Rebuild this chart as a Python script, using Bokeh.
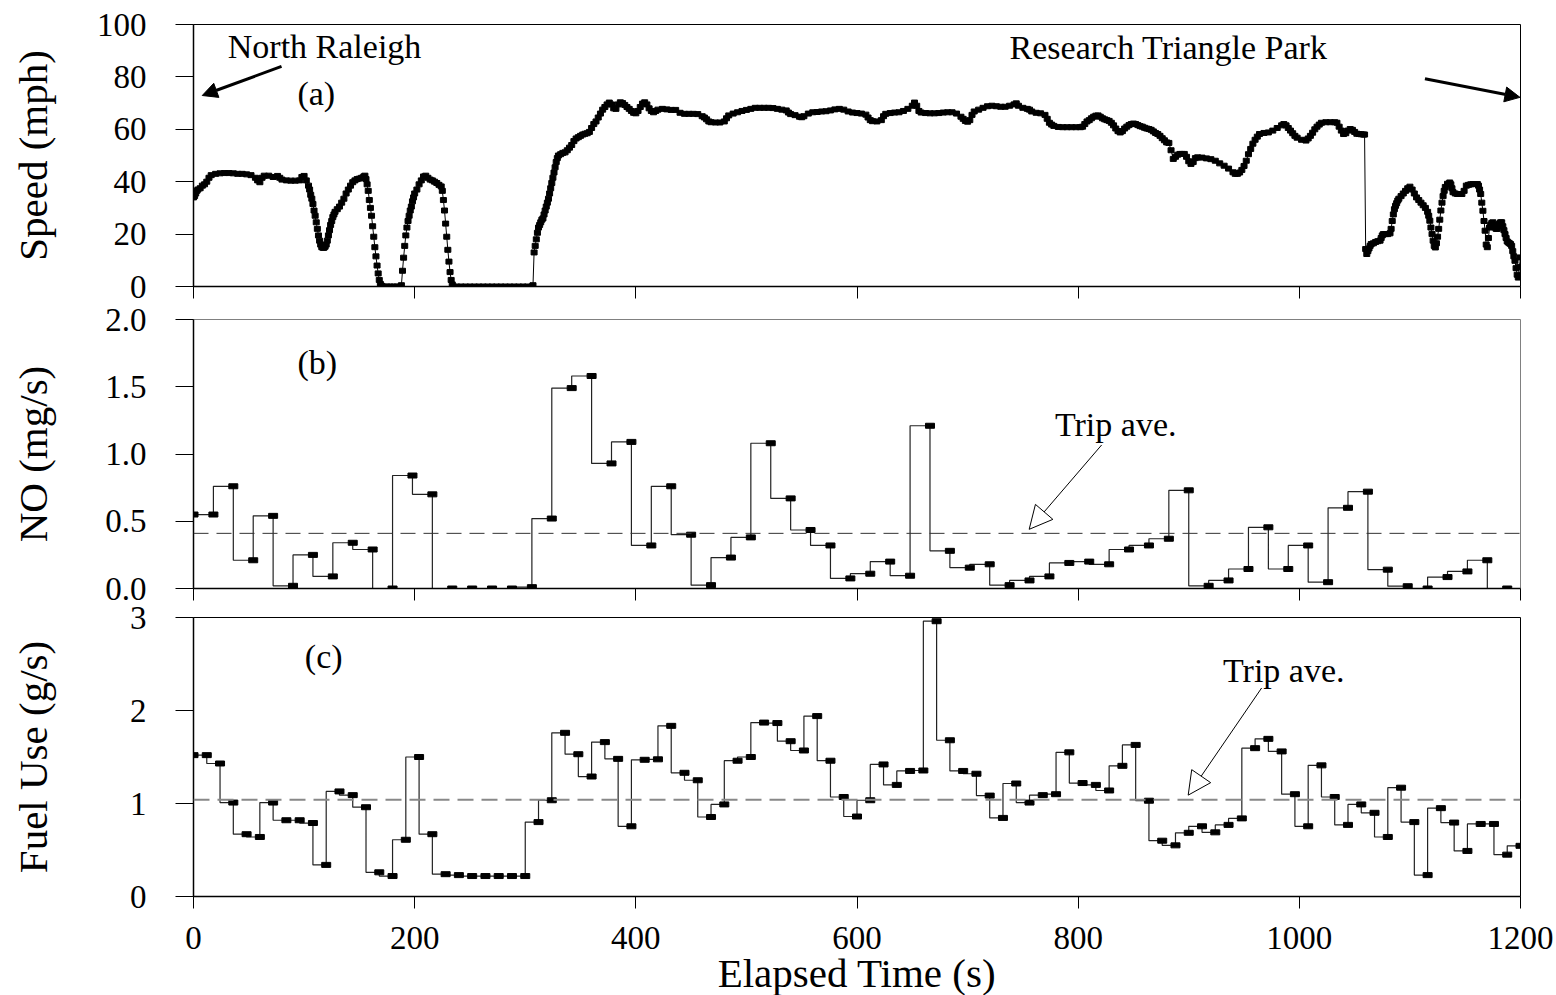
from bokeh.plotting import figure
from bokeh.models import (Range1d, FixedTicker, Span, Label, Arrow, NormalHead,
                          PrintfTickFormatter)
from bokeh.layouts import column
from bokeh.embed import file_html
from bokeh.resources import INLINE

FONT = "Liberation Serif"

# ---------------- data ----------------
speed_t = [
    0, 1, 2, 3, 4, 6, 8, 10, 12, 14,
    16, 20, 24, 28, 32, 36, 40, 44, 48, 52,
    56, 58, 60, 62, 64, 68, 72, 76, 78, 80,
    84, 88, 92, 96, 98, 100, 102, 104, 105, 106,
    107, 108, 109, 110, 111, 112, 113, 114, 115, 116,
    117, 118, 119, 120, 121, 122, 123, 124, 125, 126,
    127, 128, 130, 132, 134, 136, 138, 140, 142, 144,
    146, 148, 150, 152, 154, 155, 156, 157, 158, 159,
    160, 161, 162, 163, 164, 165, 166, 167, 168, 169,
    170, 172, 175, 178, 181, 184, 187, 188, 189, 190,
    191, 192, 193, 194, 195, 196, 197, 198, 199, 200,
    202, 204, 206, 208, 210, 212, 214, 216, 218, 220,
    222, 224, 225, 226, 227, 228, 229, 230, 231, 232,
    233, 234, 235, 238, 242, 246, 250, 254, 258, 262,
    266, 270, 274, 278, 282, 286, 290, 294, 298, 302,
    306, 307, 308, 309, 310, 311, 312, 313, 314, 315,
    316, 317, 318, 319, 320, 321, 322, 323, 324, 325,
    326, 327, 328, 329, 330, 332, 334, 336, 338, 340,
    342, 344, 346, 348, 350, 352, 354, 356, 358, 360,
    362, 364, 366, 368, 370, 372, 374, 376, 378, 380,
    382, 384, 386, 388, 390, 392, 394, 396, 398, 400,
    402, 404, 406, 408, 410, 412, 414, 416, 418, 420,
    424, 428, 432, 436, 440, 444, 448, 452, 456, 460,
    462, 464, 466, 468, 472, 476, 480, 482, 484, 488,
    492, 496, 500, 504, 508, 512, 516, 520, 524, 528,
    532, 536, 538, 540, 544, 548, 550, 552, 556, 560,
    564, 568, 572, 576, 580, 584, 588, 592, 596, 600,
    604, 608, 610, 612, 614, 618, 622, 624, 626, 630,
    634, 638, 642, 646, 650, 652, 654, 656, 658, 662,
    666, 670, 674, 678, 682, 686, 690, 694, 696, 698,
    700, 702, 704, 706, 710, 714, 718, 722, 726, 730,
    734, 738, 742, 744, 746, 750, 754, 756, 758, 762,
    766, 770, 772, 774, 776, 778, 782, 786, 790, 794,
    798, 802, 804, 806, 808, 810, 812, 814, 816, 818,
    820, 822, 824, 826, 828, 830, 832, 834, 836, 838,
    840, 842, 844, 846, 848, 850, 852, 854, 856, 858,
    860, 862, 864, 866, 868, 870, 872, 874, 876, 878,
    880, 882, 884, 886, 888, 890, 892, 894, 896, 898,
    900, 902, 904, 906, 908, 912, 916, 920, 924, 928,
    932, 936, 940, 942, 944, 946, 948, 950, 952, 954,
    956, 958, 960, 962, 964, 968, 972, 976, 980, 984,
    986, 988, 990, 992, 994, 996, 998, 1002, 1006, 1008,
    1010, 1012, 1014, 1016, 1018, 1020, 1024, 1028, 1032, 1034,
    1036, 1038, 1040, 1042, 1044, 1046, 1048, 1050, 1052, 1054,
    1056, 1058, 1059, 1060, 1061, 1062, 1063, 1064, 1065, 1067,
    1069, 1071, 1073, 1074, 1075, 1076, 1078, 1080, 1082, 1083,
    1084, 1085, 1086, 1087, 1088, 1089, 1090, 1092, 1094, 1096,
    1098, 1100, 1102, 1104, 1106, 1108, 1110, 1112, 1114, 1116,
    1117, 1118, 1119, 1120, 1121, 1122, 1123, 1124, 1125, 1126,
    1127, 1128, 1129, 1130, 1131, 1132, 1134, 1136, 1137, 1138,
    1139, 1141, 1143, 1145, 1147, 1149, 1151, 1153, 1155, 1157,
    1159, 1161, 1162, 1163, 1164, 1165, 1166, 1167, 1168, 1169,
    1170, 1171, 1172, 1173, 1174, 1175, 1176, 1177, 1178, 1179,
    1180, 1181, 1182, 1183, 1184, 1185, 1186, 1187, 1188, 1189,
    1190, 1191, 1192, 1193, 1194, 1195, 1196, 1197, 1198, 1199,
    1200,
]
speed_mph = [
    34.0, 34.5, 35.5, 36.5, 37, 37.5, 38.5, 39, 40, 41.5,
    42.5, 43, 43.2, 43.3, 43.3, 43.2, 43, 43, 42.8, 42.5,
    41.5, 40.5, 39.8, 41.5, 42.3, 42.3, 41.8, 42.2, 41.5, 40.8,
    40.5, 40.4, 40.4, 40.5, 41.8, 42.2, 40.5, 38.5, 37, 35,
    33.5, 31.5, 29, 27, 24.5, 22, 19.5, 17.5, 16, 15,
    14.8, 14.8, 15.2, 16, 17.5, 19.5, 21.5, 23.5, 25, 26.5,
    27.5, 28.5, 29.5, 30.5, 32, 33.5, 35.5, 37, 38.5, 39.8,
    40.5, 41, 41.2, 41.5, 42, 42.3, 41, 39, 36.5, 33,
    30, 27, 23, 19, 15, 11.5, 8, 5, 2.5, 1,
    0.3, 0, 0, 0, 0, 0, 0, 0.5, 6, 11,
    15.5, 19.5, 22.5, 25, 27, 29, 30.5, 32.5, 34, 35.5,
    37, 39, 40.5, 42, 42.3, 41.5, 40.8, 40.5, 40, 39.5,
    38.8, 38.2, 36.5, 33, 29, 24, 19, 14, 9.5, 5.5,
    2.5, 0.8, 0, 0, 0, 0, 0, 0, 0, 0,
    0, 0, 0, 0, 0, 0, 0, 0, 0, 0,
    0, 0.5, 13, 15.5, 18, 20.5, 22.5, 23.5, 24.5, 25.5,
    26, 27.5, 29, 30.5, 32, 33.5, 35.5, 37.5, 39.5, 41.5,
    43.5, 45.5, 47.5, 49, 50, 50.5, 51, 51.2, 52, 53,
    54, 55.5, 56.5, 57, 57.5, 58, 58.3, 58.5, 59, 60.5,
    62, 63, 64.5, 66, 67.5, 68.5, 69.5, 70.2, 69.5, 68,
    67.8, 69.5, 70.3, 70, 69.3, 68.5, 67.8, 67, 66.3, 66.1,
    67, 68.5, 69.8, 70.3, 69.5, 68, 67, 66.5, 67, 67.5,
    67.8, 67.6, 67.4, 67.4, 66.3, 65.9, 65.9, 65.9, 65.8, 65,
    64.5, 63.8, 63, 62.7, 62.6, 62.6, 63, 64.2, 65.3, 66,
    66.5, 67, 67.4, 67.8, 68.2, 68.2, 68.2, 68.2, 68.1, 67.8,
    67.5, 67.2, 66.4, 65.8, 65.4, 64.8, 64.6, 65, 66, 66.5,
    66.6, 66.8, 66.9, 67.2, 67.6, 67.8, 67.5, 66.8, 66.4, 66.2,
    66, 65.6, 64.5, 63.5, 63.1, 63, 63.5, 65, 65.9, 66.2,
    66.4, 66.5, 67, 67.8, 69, 70.2, 69, 67, 66.4, 66.2,
    66.1, 66.1, 66.2, 66.4, 66.5, 66.5, 66, 64.8, 64, 63.2,
    62.9, 63.5, 65.5, 66.8, 67.5, 68.2, 68.8, 69, 68.8, 68.6,
    68.6, 69, 69.5, 69.9, 69, 68.2, 67.8, 67.5, 66.8, 66.3,
    66.1, 65.5, 64, 62.5, 61.8, 61.3, 60.9, 60.8, 60.8, 60.8,
    60.8, 60.8, 61, 62, 63, 63.5, 64.2, 64.8, 65.2, 65.3,
    64.8, 64.2, 63.8, 63.5, 63.2, 62.5, 61.5, 60.3, 59.3, 58.8,
    59.3, 60.3, 61, 61.6, 62, 62.2, 62, 61.6, 61.2, 61,
    60.6, 60.3, 60.1, 59.8, 59.2, 58.6, 58.2, 57.5, 56.6, 55.8,
    55, 54.8, 52, 48.7, 49.5, 50.3, 50.6, 50.6, 50.6, 49.5,
    47.8, 46.8, 47.5, 49, 49.3, 49.2, 48.9, 48.6, 48, 47,
    46.1, 45, 43.6, 43, 43, 43.5, 44.5, 46, 48, 50.5,
    52.5, 54.5, 56, 57.2, 58.2, 58.6, 58.8, 59.5, 60.5, 61.5,
    62, 61.5, 60.5, 59.5, 58.5, 57.5, 56.8, 56, 55.7, 56.5,
    57.5, 58.7, 60, 61, 61.8, 62.5, 62.7, 62.7, 62.7, 62.5,
    61, 59.5, 58.2, 58.5, 59.5, 60.1, 59.8, 59, 58.3, 58.2,
    58.1, 58, 58, 14.3, 12.4, 13.5, 14.5, 15.5, 16.2, 16.5,
    17, 17.3, 17.5, 18.5, 19.5, 20, 20, 20, 20.3, 22,
    25, 27.5, 29.5, 30.8, 31.8, 32.8, 33.5, 34.5, 35.5, 36.5,
    37.5, 38.1, 37, 35.5, 34, 33, 32, 31, 30, 28.5,
    27, 25.1, 22.5, 20, 17.5, 15.5, 14.9, 16.5, 19, 22,
    25.5, 29, 32, 34.5, 36.5, 38, 39.2, 39.7, 39, 37.5,
    36, 35.5, 35.3, 35.3, 35.3, 36.5, 38.5, 38.8, 39, 39.1,
    39.1, 39.1, 38.5, 37, 35.3, 32, 28.9, 25, 21.3, 16,
    15, 18.5, 22.5, 23.5, 24.2, 24.5, 23.5, 22.5, 22, 22,
    23, 24, 24.5, 24.5, 23, 21.5, 20, 18.5, 17.2, 16.8,
    16.5, 16.2, 15.5, 13.5, 11.5, 9.8, 7, 4.5, 3.4, 7.5,
    11.1,
]

no_t = [
    0, 18, 36, 54, 72, 90, 108, 126, 144, 162,
    180, 198, 216, 234, 252, 270, 288, 306, 324, 342,
    360, 378, 396, 414, 432, 450, 468, 486, 504, 522,
    540, 558, 576, 594, 612, 630, 648, 666, 684, 702,
    720, 738, 756, 774, 792, 810, 828, 846, 864, 882,
    900, 918, 936, 954, 972, 990, 1008, 1026, 1044, 1062,
    1080, 1098, 1116, 1134, 1152, 1170, 1188,
]
no_mgs = [
    0.55, 0.55, 0.76, 0.21, 0.54, 0.02, 0.25, 0.09, 0.34, 0.29,
    0.00, 0.84, 0.70, 0.00, 0.00, 0.00, 0.00, 0.01, 0.52, 1.49,
    1.58, 0.93, 1.09, 0.32, 0.76, 0.40, 0.025, 0.23, 0.38, 1.08,
    0.67, 0.435, 0.32, 0.075, 0.11, 0.20, 0.095, 1.21, 0.28, 0.155,
    0.18, 0.025, 0.06, 0.09, 0.19, 0.20, 0.18, 0.29, 0.32, 0.37,
    0.73, 0.02, 0.06, 0.145, 0.455, 0.145, 0.32, 0.047, 0.60, 0.72,
    0.14, 0.017, 0.00, 0.085, 0.127, 0.21, 0.00,
]
NO_TRIP_AVE = 0.41

fuel_t = [
    0, 12, 24, 36, 48, 60, 72, 84, 96, 108,
    120, 132, 144, 156, 168, 180, 192, 204, 216, 228,
    240, 252, 264, 276, 288, 300, 312, 324, 336, 348,
    360, 372, 384, 396, 408, 420, 432, 444, 456, 468,
    480, 492, 504, 516, 528, 540, 552, 564, 576, 588,
    600, 612, 624, 636, 648, 660, 672, 684, 696, 708,
    720, 732, 744, 756, 768, 780, 792, 804, 816, 828,
    840, 852, 864, 876, 888, 900, 912, 924, 936, 948,
    960, 972, 984, 996, 1008, 1020, 1032, 1044, 1056, 1068,
    1080, 1092, 1104, 1116, 1128, 1140, 1152, 1164, 1176, 1188,
    1200,
]
fuel_gs = [
    1.52, 1.52, 1.43, 1.01, 0.67, 0.64, 1.01, 0.82, 0.82, 0.79,
    0.34, 1.13, 1.09, 0.96, 0.26, 0.22, 0.61, 1.50, 0.67, 0.24,
    0.23, 0.22, 0.22, 0.22, 0.22, 0.22, 0.80, 1.035, 1.76, 1.53,
    1.29, 1.66, 1.48, 0.755, 1.47, 1.475, 1.835, 1.33, 1.25, 0.855,
    0.99, 1.46, 1.50, 1.87, 1.865, 1.67, 1.57, 1.94, 1.46, 1.07,
    0.86, 1.035, 1.42, 1.20, 1.35, 1.355, 2.96, 1.68, 1.35, 1.32,
    1.085, 0.845, 1.215, 1.01, 1.09, 1.10, 1.55, 1.22, 1.20, 1.14,
    1.405, 1.63, 1.03, 0.60, 0.55, 0.685, 0.755, 0.69, 0.77, 0.84,
    1.595, 1.695, 1.56, 1.10, 0.755, 1.41, 1.07, 0.77, 0.99, 0.90,
    0.64, 1.17, 0.80, 0.23, 0.95, 0.795, 0.49, 0.78, 0.78, 0.45,
    0.545,
]
FUEL_TRIP_AVE = 1.04

x_ticks = [0, 200, 400, 600, 800, 1000, 1200]
speed_ticks = [0, 20, 40, 60, 80, 100]
no_ticks = [0.0, 0.5, 1.0, 1.5, 2.0]
fuel_ticks = [0, 1, 2, 3]

# ---------------- layout ----------------
FRAME_W = 1327
LEFT = 193
RIGHT = 34
x_range = Range1d(0, 1200)


def make_fig(y_range, frame_h, top, bottom, overlap=0):
    p = figure(x_range=x_range, y_range=y_range, frame_width=FRAME_W,
               frame_height=frame_h, output_backend="svg",
               toolbar_location=None, min_border_left=LEFT,
               min_border_right=RIGHT, min_border_top=top,
               min_border_bottom=bottom, background_fill_color="white",
               border_fill_color=None)
    if overlap:
        p.margin = (-overlap, 0, 0, 0)
    p.xgrid.visible = False
    p.ygrid.visible = False
    p.outline_line_color = "black"
    p.outline_line_width = 1
    for ax in (p.xaxis[0], p.yaxis[0]):
        ax.axis_line_color = "black"
        ax.axis_line_width = 1.5
        ax.major_tick_line_color = "black"
        ax.major_tick_line_width = 1
        ax.major_tick_in = 0
        ax.minor_tick_in = 0
        ax.minor_tick_out = 0
        ax.major_label_text_font = FONT
        ax.major_label_text_font_size = "33px"
        ax.major_label_text_color = "black"
        ax.axis_label_text_font = FONT
        ax.axis_label_text_font_style = "normal"
        ax.axis_label_text_font_size = "41px"
        ax.axis_label_text_color = "black"
    p.xaxis.ticker = FixedTicker(ticks=x_ticks)
    p.xaxis.major_tick_out = 12
    p.yaxis.major_tick_out = 18
    p.yaxis.major_label_standoff = 29
    return p


def hide_x_labels(p):
    p.xaxis.major_label_text_font_size = "1px"
    p.xaxis.major_label_text_color = None
    p.xaxis.major_label_standoff = 0


def label(p, x, y, text):
    p.add_layout(Label(x=x, y=y, text=text, text_font=FONT,
                       text_font_size="34px", text_color="black",
                       text_align="left", text_baseline="alphabetic"))


# ---- (a) speed ----  frame 24..286
pa = make_fig(Range1d(0, 100), 262, 24, 30)
hide_x_labels(pa)
pa.yaxis.ticker = FixedTicker(ticks=speed_ticks)
pa.yaxis.axis_label = "Speed (mph)"
pa.yaxis.axis_label_standoff = 38
pa.line(speed_t, speed_mph, line_color="black", line_width=1)
pa.rect(speed_t, speed_mph, width=6, height=5, width_units="screen",
        height_units="screen", fill_color="black", line_color="black")
label(pa, 31, 91.6, "North Raleigh")
label(pa, 94, 73.6, "(a)")
label(pa, 738, 91.2, "Research Triangle Park")
pa.add_layout(Arrow(end=NormalHead(size=15, fill_color="black", line_color="black"),
                    x_start=79.6, y_start=84.0, x_end=7.9, y_end=72.9,
                    line_color="black", line_width=3))
pa.add_layout(Arrow(end=NormalHead(size=15, fill_color="black", line_color="black"),
                    x_start=1113.6, y_start=79.3, x_end=1199.5, y_end=72.2,
                    line_color="black", line_width=3))

# ---- (b) NO ----  canvas starts 299, frame 319..588
pb = make_fig(Range1d(0, 2), 269, 20, 29, overlap=17)
hide_x_labels(pb)
pb.outline_line_color = "#808080"
pb.yaxis.ticker = FixedTicker(ticks=no_ticks)
pb.yaxis.formatter = PrintfTickFormatter(format="%.1f")
pb.yaxis.axis_label = "NO (mg/s)"
pb.yaxis.axis_label_standoff = 46
pb.add_layout(Span(location=NO_TRIP_AVE, dimension="width", line_color="#333333",
                   line_width=1, line_dash="15 8"))
pb.step(no_t, no_mgs, mode="before", line_color="#222222", line_width=1.2)
pb.rect(no_t, no_mgs, width=9, height=5, width_units="screen",
        height_units="screen", fill_color="black", line_color="black")
label(pb, 94, 1.68, "(b)")
label(pb, 779, 1.22, "Trip ave.")
pb.add_layout(Arrow(end=NormalHead(size=23, fill_color="white", line_color="black",
                                   line_width=1),
                    x_start=821.2, y_start=1.067, x_end=755.7, y_end=0.44,
                    line_color="black", line_width=1))

# ---- (c) Fuel ----  canvas starts 597, frame 617..896
pc = make_fig(Range1d(0, 3), 279, 20, 97, overlap=20)
pc.yaxis.ticker = FixedTicker(ticks=fuel_ticks)
pc.yaxis.axis_label = "Fuel Use (g/s)"
pc.yaxis.axis_label_standoff = 71
pc.xaxis.axis_label = "Elapsed Time (s)"
pc.xaxis.major_label_standoff = 18
pc.xaxis.axis_label_standoff = -2
pc.add_layout(Span(location=FUEL_TRIP_AVE, dimension="width", line_color="#888888",
                   line_width=2, line_dash="16 8"))
pc.step(fuel_t, fuel_gs, mode="before", line_color="#222222", line_width=1.2)
pc.rect(fuel_t, fuel_gs, width=9, height=5, width_units="screen",
        height_units="screen", fill_color="black", line_color="black")
label(pc, 100.7, 2.58, "(c)")
label(pc, 931, 2.43, "Trip ave.")
pc.add_layout(Arrow(end=NormalHead(size=23, fill_color="white", line_color="black",
                                   line_width=1),
                    x_start=965.9, y_start=2.242, x_end=899.5, y_end=1.09,
                    line_color="black", line_width=1))

layout = column(pa, pb, pc, spacing=0)
open("out.html", "w").write(file_html(layout, INLINE))
